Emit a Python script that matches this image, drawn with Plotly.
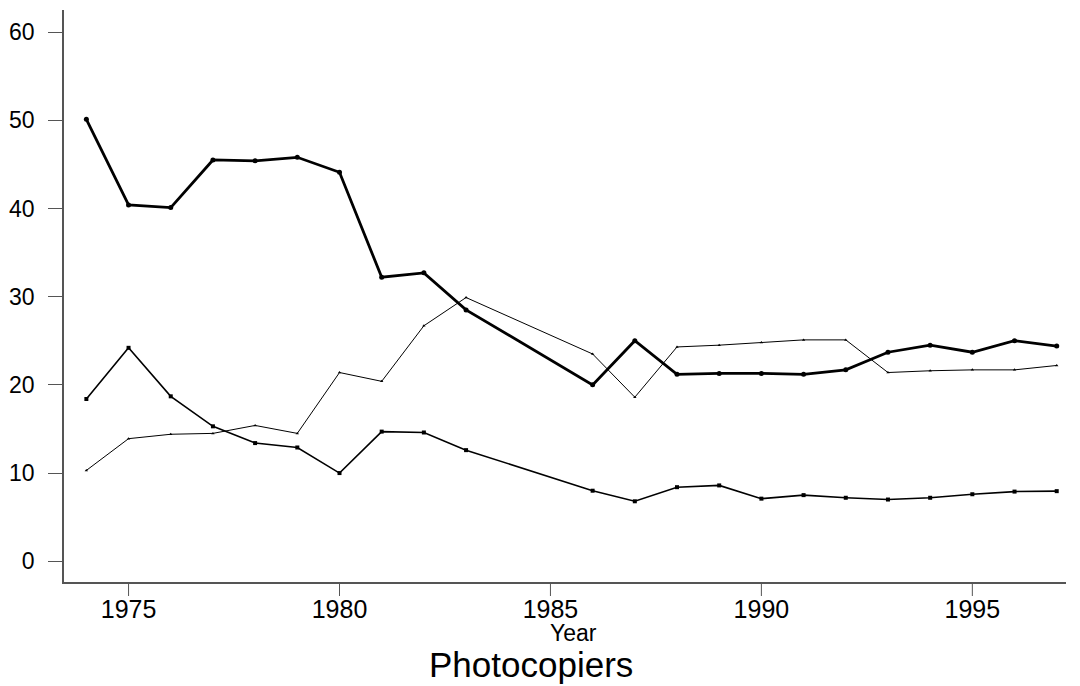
import plotly.graph_objects as go

years = [1974, 1975, 1976, 1977, 1978, 1979, 1980, 1981, 1982, 1983,
         1986, 1987, 1988, 1989, 1990, 1991, 1992, 1993, 1994, 1995, 1996, 1997]

series_thick = [50.1, 40.4, 40.1, 45.5, 45.4, 45.8, 44.1, 32.2, 32.7, 28.5,
                20.0, 25.0, 21.2, 21.3, 21.3, 21.2, 21.7, 23.7, 24.5, 23.7, 25.0, 24.4]
series_thin = [10.3, 13.9, 14.4, 14.5, 15.4, 14.5, 21.4, 20.4, 26.7, 29.9,
               23.5, 18.6, 24.3, 24.5, 24.8, 25.1, 25.1, 21.4, 21.6, 21.7, 21.7, 22.2]
series_mid = [18.4, 24.2, 18.7, 15.3, 13.4, 12.9, 10.0, 14.7, 14.6, 12.6,
              8.0, 6.8, 8.4, 8.6, 7.1, 7.5, 7.2, 7.0, 7.2, 7.6, 7.9, 7.95]

x_ticks = [1975, 1980, 1985, 1990, 1995]
y_ticks = [0, 10, 20, 30, 40, 50, 60]

FONT = "Liberation Sans, Arial, sans-serif"
PLOT_H = 572

fig = go.Figure()
fig.add_trace(go.Scatter(x=years, y=series_thin, mode="lines+markers",
                         line=dict(color="black", width=1),
                         marker=dict(symbol="triangle-up", size=3, color="black"),
                         showlegend=False))
fig.add_trace(go.Scatter(x=years, y=series_mid, mode="lines+markers",
                         line=dict(color="black", width=1.6),
                         marker=dict(symbol="square", size=4, color="black"),
                         showlegend=False))
fig.add_trace(go.Scatter(x=years, y=series_thick, mode="lines+markers",
                         line=dict(color="black", width=2.8),
                         marker=dict(symbol="circle", size=5, color="black"),
                         showlegend=False))

# outside x tick marks drawn as short lines at the tick values
for xv in x_ticks:
    fig.add_shape(type="line", xref="x", yref="paper", x0=xv, x1=xv,
                  y0=0, y1=-14 / PLOT_H, line=dict(color="#555", width=1))

fig.update_layout(
    width=1080, height=686,
    margin=dict(l=64, r=14, t=10, b=104),
    paper_bgcolor="white", plot_bgcolor="white",
    font=dict(family=FONT, color="black"),
    annotations=[
        dict(text="Year", xref="paper", yref="paper", x=(573 - 64) / 1002, y=-51 / PLOT_H,
             xanchor="center", yanchor="middle", showarrow=False,
             font=dict(size=23, family=FONT, color="black")),
        dict(text="Photocopiers", xref="paper", yref="paper", x=(531 - 64) / 1002, y=-82 / PLOT_H,
             xanchor="center", yanchor="middle", showarrow=False,
             font=dict(size=35, family=FONT, color="black")),
    ],
)
fig.update_xaxes(range=[1973.47, 1997.22], tickvals=x_ticks, ticktext=[str(v) for v in x_ticks],
                 showgrid=False, zeroline=False, showline=True, linecolor="#555", linewidth=1.5,
                 ticks="", ticklabelstandoff=4,
                 tickfont=dict(size=25, family=FONT, color="black"))
fig.update_yaxes(range=[-2.35, 62.5], tickvals=y_ticks, ticktext=[str(v) for v in y_ticks],
                 showgrid=False, zeroline=False, showline=True, linecolor="#555", linewidth=1.5,
                 ticks="outside", ticklen=14, tickcolor="#555", tickwidth=1,
                 ticklabelstandoff=9,
                 tickfont=dict(size=23, family=FONT, color="black"))

fig.write_html("out.html")
